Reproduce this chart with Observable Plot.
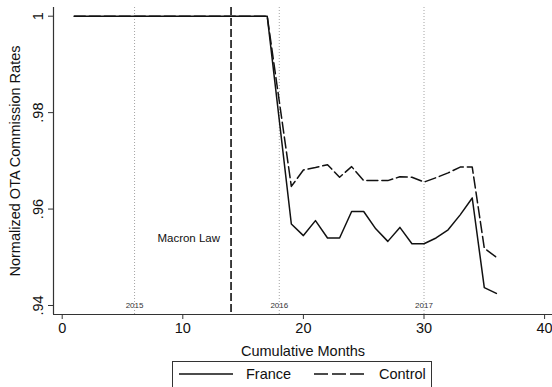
<!DOCTYPE html>
<html>
<head>
<meta charset="utf-8">
<script src="https://cdn.jsdelivr.net/npm/d3@7"></script>
<script src="https://cdn.jsdelivr.net/npm/@observablehq/plot@0.6"></script>
<style>
  html, body { margin: 0; padding: 0; background: white; }
  body { width: 552px; height: 387px; overflow: hidden; font-family: "Liberation Sans", Arial, Helvetica, sans-serif; }
  #legend { margin-left: 172px; margin-top: 3px; width: 260px; height: 30px; border: 1px solid #333; box-sizing: border-box; }
</style>
</head>
<body>
<div id="chart"></div>
<div id="legend"></div>
<script>
const months = [1,2,3,4,5,6,7,8,9,10,11,12,13,14,15,16,17,19,20,21,22,23,24,25,26,27,28,29,30,31,32,33,34,35,36];
const france = [1,1,1,1,1,1,1,1,1,1,1,1,1,1,1,1,1,
  0.9569,0.9545,0.9576,0.9540,0.9540,0.9595,0.9595,0.9559,0.9533,0.9562,0.9528,0.9528,0.9540,0.9557,0.9588,0.9623,0.9437,0.9425];
const control = [1,1,1,1,1,1,1,1,1,1,1,1,1,1,1,1,1,
  0.9647,0.9681,0.9686,0.9692,0.9666,0.9688,0.9659,0.9659,0.9659,0.9667,0.9666,0.9656,0.9665,0.9675,0.9687,0.9687,0.9519,0.9500];
const xTicks = [0,10,20,30,40];
const yTicks = [0.94,0.96,0.98,1];
const yearMonths = [6,18,30];
const yearLabels = ["2015","2016","2017"];
const lawMonth = 14;
const lawLabel = "Macron Law";
const seriesNames = ["France","Control"];

const franceData = months.map((m,i)=>({month:m, value:france[i]}));
const controlData = months.map((m,i)=>({month:m, value:control[i]}));
const years = yearMonths.map((m,i)=>({month:m, label:yearLabels[i]}));

const xDomain = [-0.7214, 40.655];
const yDomain = [0.938133, 1.001804];
const fmtY = d => d === 1 ? "1" : d3.format(".2f")(d).replace(/^0/, "");

const chart = Plot.plot({
  width: 552,
  height: 358,
  marginLeft: 53,
  marginRight: 0,
  marginTop: 7,
  marginBottom: 44,
  style: {fontFamily: '"Liberation Sans", Arial, Helvetica, sans-serif', fontSize: "14.5px", color: "#111", background: "white"},
  x: {domain: xDomain},
  y: {domain: yDomain},
  marks: [
    Plot.ruleX(years, {x: "month", stroke: "#9a9a9a", strokeWidth: 0.9, strokeDasharray: "1,2"}),
    Plot.text(years, {x: "month", text: "label", frameAnchor: "bottom", dy: -9, fontSize: 8, fill: "#333", lineAnchor: "middle"}),
    Plot.ruleX([lawMonth], {stroke: "#111", strokeWidth: 1.6, strokeDasharray: "8,3"}),
    Plot.text([lawLabel], {x: lawMonth, y: 0.954, dx: -11, textAnchor: "end", fontSize: 11.5, fill: "#111"}),
    Plot.line(franceData, {x: "month", y: "value", stroke: "#111", strokeWidth: 1.5}),
    Plot.line(controlData, {x: "month", y: "value", stroke: "#111", strokeWidth: 1.5, strokeDasharray: "11,4"}),
    Plot.ruleX([xDomain[0]], {stroke: "#333", strokeWidth: 1.2}),
    Plot.ruleY([yDomain[0]], {stroke: "#333", strokeWidth: 1.2}),
    Plot.axisX({ticks: xTicks, tickSize: 5, tickPadding: 3, label: null, fontSize: 14.5, stroke: "#333"}),
    Plot.axisY({ticks: yTicks, tickSize: 5, tickFormat: () => "", label: null, stroke: "#333"}),
    Plot.text(yTicks, {y: d => d, text: fmtY, frameAnchor: "left", dx: -15, rotate: -90, textAnchor: "middle", lineAnchor: "middle", fontSize: 14.5, fill: "#111"}),
    Plot.text(["Normalized OTA Commission Rates"], {frameAnchor: "left", dx: -38, rotate: -90, textAnchor: "middle", lineAnchor: "middle", fontSize: 14.5, fill: "#111"}),
    Plot.text(["Cumulative Months"], {frameAnchor: "bottom", dy: 37, textAnchor: "middle", lineAnchor: "middle", fontSize: 14.5, fill: "#111"})
  ]
});
document.getElementById("chart").appendChild(chart);

// legend
const ns = "http://www.w3.org/2000/svg";
const lg = document.createElementNS(ns, "svg");
lg.setAttribute("width", 258);
lg.setAttribute("height", 28);
const items = [
  {x1: 6, x2: 60, tx: 73, dash: null, name: seriesNames[0]},
  {x1: 141, x2: 192, tx: 206, dash: "14,4", name: seriesNames[1]}
];
for (const it of items) {
  const l = document.createElementNS(ns, "line");
  l.setAttribute("x1", it.x1); l.setAttribute("x2", it.x2);
  l.setAttribute("y1", 12); l.setAttribute("y2", 12);
  l.setAttribute("stroke", "#111"); l.setAttribute("stroke-width", 1.5);
  if (it.dash) l.setAttribute("stroke-dasharray", it.dash);
  lg.appendChild(l);
  const t = document.createElementNS(ns, "text");
  t.setAttribute("x", it.tx); t.setAttribute("y", 17);
  t.setAttribute("font-size", "14.5px");
  t.setAttribute("fill", "#111");
  t.textContent = it.name;
  lg.appendChild(t);
}
document.getElementById("legend").appendChild(lg);
</script>
</body>
</html>
